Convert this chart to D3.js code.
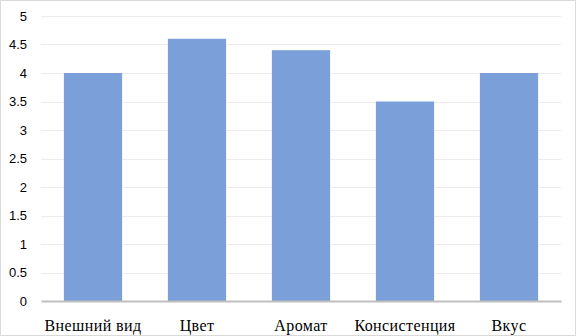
<!DOCTYPE html>
<html>
<head>
<meta charset="utf-8">
<script src="https://cdnjs.cloudflare.com/ajax/libs/d3/7.8.5/d3.min.js"></script>
<style>
  body { margin: 0; background: #fff; }
</style>
</head>
<body>
<div id="chart"></div>
<script>
var categories = ["Внешний вид", "Цвет", "Аромат", "Консистенция", "Вкус"];
var values = [4, 4.6, 4.4, 3.5, 4];
var yTicks = [0, 0.5, 1, 1.5, 2, 2.5, 3, 3.5, 4, 4.5, 5];

var W = 576, H = 336;
var margin = { left: 41, right: 15, top: 16, bottom: 35 };
var w = W - margin.left - margin.right;
var h = H - margin.top - margin.bottom;

var svg = d3.select("#chart")
    .append("svg")
    .attr("width", W)
    .attr("height", H);

// chart border
svg.append("rect")
    .attr("x", 0.5).attr("y", 0.5)
    .attr("width", W - 1).attr("height", H - 1)
    .attr("fill", "#fff")
    .attr("stroke", "#d9d9d9");

var g = svg.append("g")
    .attr("transform", "translate(" + margin.left + "," + margin.top + ")");

var xScale = d3.scaleBand()
    .domain(categories)
    .range([0, w])
    .paddingInner(0.44)
    .paddingOuter(0.22);

var yScale = d3.scaleLinear()
    .domain([0, 5])
    .range([h, 0]);

// gridlines
g.selectAll(".grid")
    .data(yTicks.filter(function(d) { return d > 0; }))
    .enter().append("line")
    .attr("class", "grid")
    .attr("x1", 0).attr("x2", w)
    .attr("y1", function(d) { return Math.round(yScale(d)) + 0.5; })
    .attr("y2", function(d) { return Math.round(yScale(d)) + 0.5; })
    .attr("stroke", "#ececec")
    .attr("stroke-width", 1);

// y tick labels
var yAxis = d3.axisLeft(yScale).tickValues(yTicks).tickSize(0).tickPadding(14)
    .tickFormat(function(d) { return String(d); });
var yG = g.append("g").call(yAxis);
yG.select(".domain").remove();
yG.selectAll("text")
    .attr("font-family", "'Liberation Sans', Arial, sans-serif")
    .attr("font-size", 13)
    .attr("fill", "#000");

// bars
g.selectAll(".bar")
    .data(values)
    .enter().append("rect")
    .attr("class", "bar")
    .attr("x", function(d, i) { return xScale(categories[i]); })
    .attr("width", xScale.bandwidth())
    .attr("y", function(d) { return yScale(d); })
    .attr("height", function(d) { return h - yScale(d); })
    .attr("fill", "#7b9fd8");

// x axis
var xAxis = d3.axisBottom(xScale).tickSize(0).tickPadding(19);
var xG = g.append("g")
    .attr("transform", "translate(0," + h + ")")
    .call(xAxis);
xG.select(".domain")
    .attr("stroke", "#bfbfbf")
    .attr("stroke-width", 2);
xG.selectAll("text")
    .attr("font-family", "'Liberation Serif', 'Times New Roman', serif")
    .attr("font-size", 16)
    .attr("letter-spacing", 0.4)
    .attr("fill", "#000");
</script>
</body>
</html>
